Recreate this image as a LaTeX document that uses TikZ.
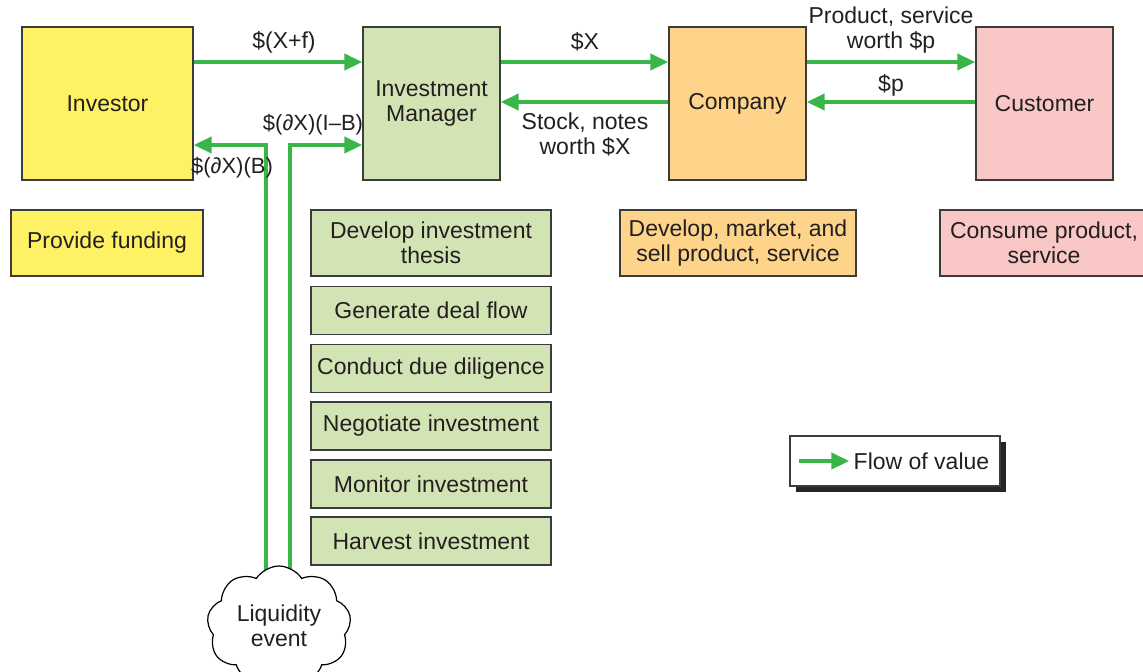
\documentclass[tikz,border=0pt]{standalone}
\usepackage{fontspec}
\setmainfont{Liberation Sans}
\usetikzlibrary{arrows.meta,shapes.symbols,shadows,backgrounds}

\definecolor{invyellow}{HTML}{FFF164}
\definecolor{mgrgreen}{HTML}{D3E4B4}
\definecolor{coorange}{HTML}{FDD48A}
\definecolor{cuspink}{HTML}{F9C7C5}
\definecolor{flowgreen}{HTML}{39B54A}
\definecolor{edgegray}{HTML}{3C3C3C}
\definecolor{textgray}{HTML}{231F20}

\begin{document}
\begin{tikzpicture}[x=0.5pt,y=-0.5pt,
  every node/.style={font=\fontsize{11.5}{12.5}\selectfont,text=textgray,align=center},
  party/.style={draw=edgegray,line width=0.7pt,minimum width=68.5pt,minimum height=76.5pt},
  task/.style={draw=edgegray,line width=0.7pt,minimum height=24pt,inner sep=1pt},
  flow/.style={draw=flowgreen,line width=2pt,-{Triangle[length=9pt,width=8pt]}},]

  \useasboundingbox (0,0) rectangle (1143,671);

  % arrow heights
  \coordinate (top) at (0,62);
  \coordinate (mid) at (0,102);
  \coordinate (low) at (0,145);

  % parties
  \node[party,fill=invyellow,minimum width=85.5pt] (inv) at (107.5,103.5) {Investor};
  \node[party,fill=mgrgreen] (mgr) at (431.5,103.5) {Investment\\Manager};
  \node[party,fill=coorange] (co) at (737.5,103.5) {Company};
  \node[party,fill=cuspink] (cus) at (1044.5,103.5) {Customer};

  % flows between parties
  \draw[flow] (inv.east |- top) -- (mgr.west |- top);
  \node[] (lxf) at (284,42) {\$(X+f)};
  \draw[flow] (mgr.east |- top) -- (co.west |- top);
  \node[] (lx) at (585,42) {\$X};
  \draw[flow] (co.west |- mid) -- (mgr.east |- mid);
  \node[] (lstock) at (585,134) {Stock, notes\\worth \$X};
  \draw[flow] (co.east |- top) -- (cus.west |- top);
  \node[] (lprod) at (891,30) {Product, service\\worth \$p};
  \draw[flow] (cus.west |- mid) -- (co.east |- mid);
  \node[] (lp) at (891,85) {\$p};

  % liquidity event
  \node[cloud,cloud puffs=9,cloud puff arc=115,aspect=1.2,draw=black,line width=0.6pt,
    fill=white,minimum width=72pt,minimum height=60pt,inner sep=0pt] (liq) at (279,626) {Liquidity\\event};
  \begin{scope}[on background layer]
    \draw[flow] ([xshift=-6.5pt]liq.center) |- (inv.east |- low);
    \draw[flow] ([xshift=5.5pt]liq.center) |- (mgr.west |- low);
  \end{scope}
  \node[font=\fontsize{11}{12.5}\selectfont] (lb) at (232,168) {\$(∂X)(B)};
  \node[font=\fontsize{11}{12.5}\selectfont] (lib) at (313,125) {\$(∂X)(I–B)};

  % investor tasks
  \node[task,fill=invyellow,minimum width=96pt,minimum height=33pt] (fund) at (107,243) {Provide funding};

  % manager tasks
  \node[task,fill=mgrgreen,minimum width=120pt,minimum height=33pt] (thesis) at (431,243) {Develop investment\\thesis};
  \node[task,fill=mgrgreen,minimum width=120pt] (deal) at (431,310.5) {Generate deal flow};
  \node[task,fill=mgrgreen,minimum width=120pt] (dili) at (431,368.5) {Conduct due diligence};
  \node[task,fill=mgrgreen,minimum width=120pt] (nego) at (431,426) {Negotiate investment};
  \node[task,fill=mgrgreen,minimum width=120pt] (moni) at (431,484) {Monitor investment};
  \node[task,fill=mgrgreen,minimum width=120pt] (harv) at (431,541) {Harvest investment};

  % company and customer tasks
  \node[task,fill=coorange,minimum width=118pt,minimum height=33pt] (sell) at (738,243) {Develop, market, and\\sell product, service};
  \node[task,fill=cuspink,minimum width=104pt,minimum height=33pt] (cons) at (1044,243) {Consume product,\\service};

  % legend
  \node[draw=edgegray,line width=0.7pt,fill=white,minimum width=105pt,minimum height=25pt,
    drop shadow={shadow xshift=3pt,shadow yshift=-3pt,fill=black!85,opacity=1}] (lg) at (895,461) {};
  \coordinate (lga) at ([xshift=5pt]lg.west);
  \node[anchor=west,inner sep=2pt] (lgt) at ([xshift=30pt]lg.west) {Flow of value};
  \draw[flow] (lga) -- (lgt.west);

\end{tikzpicture}
\end{document}
